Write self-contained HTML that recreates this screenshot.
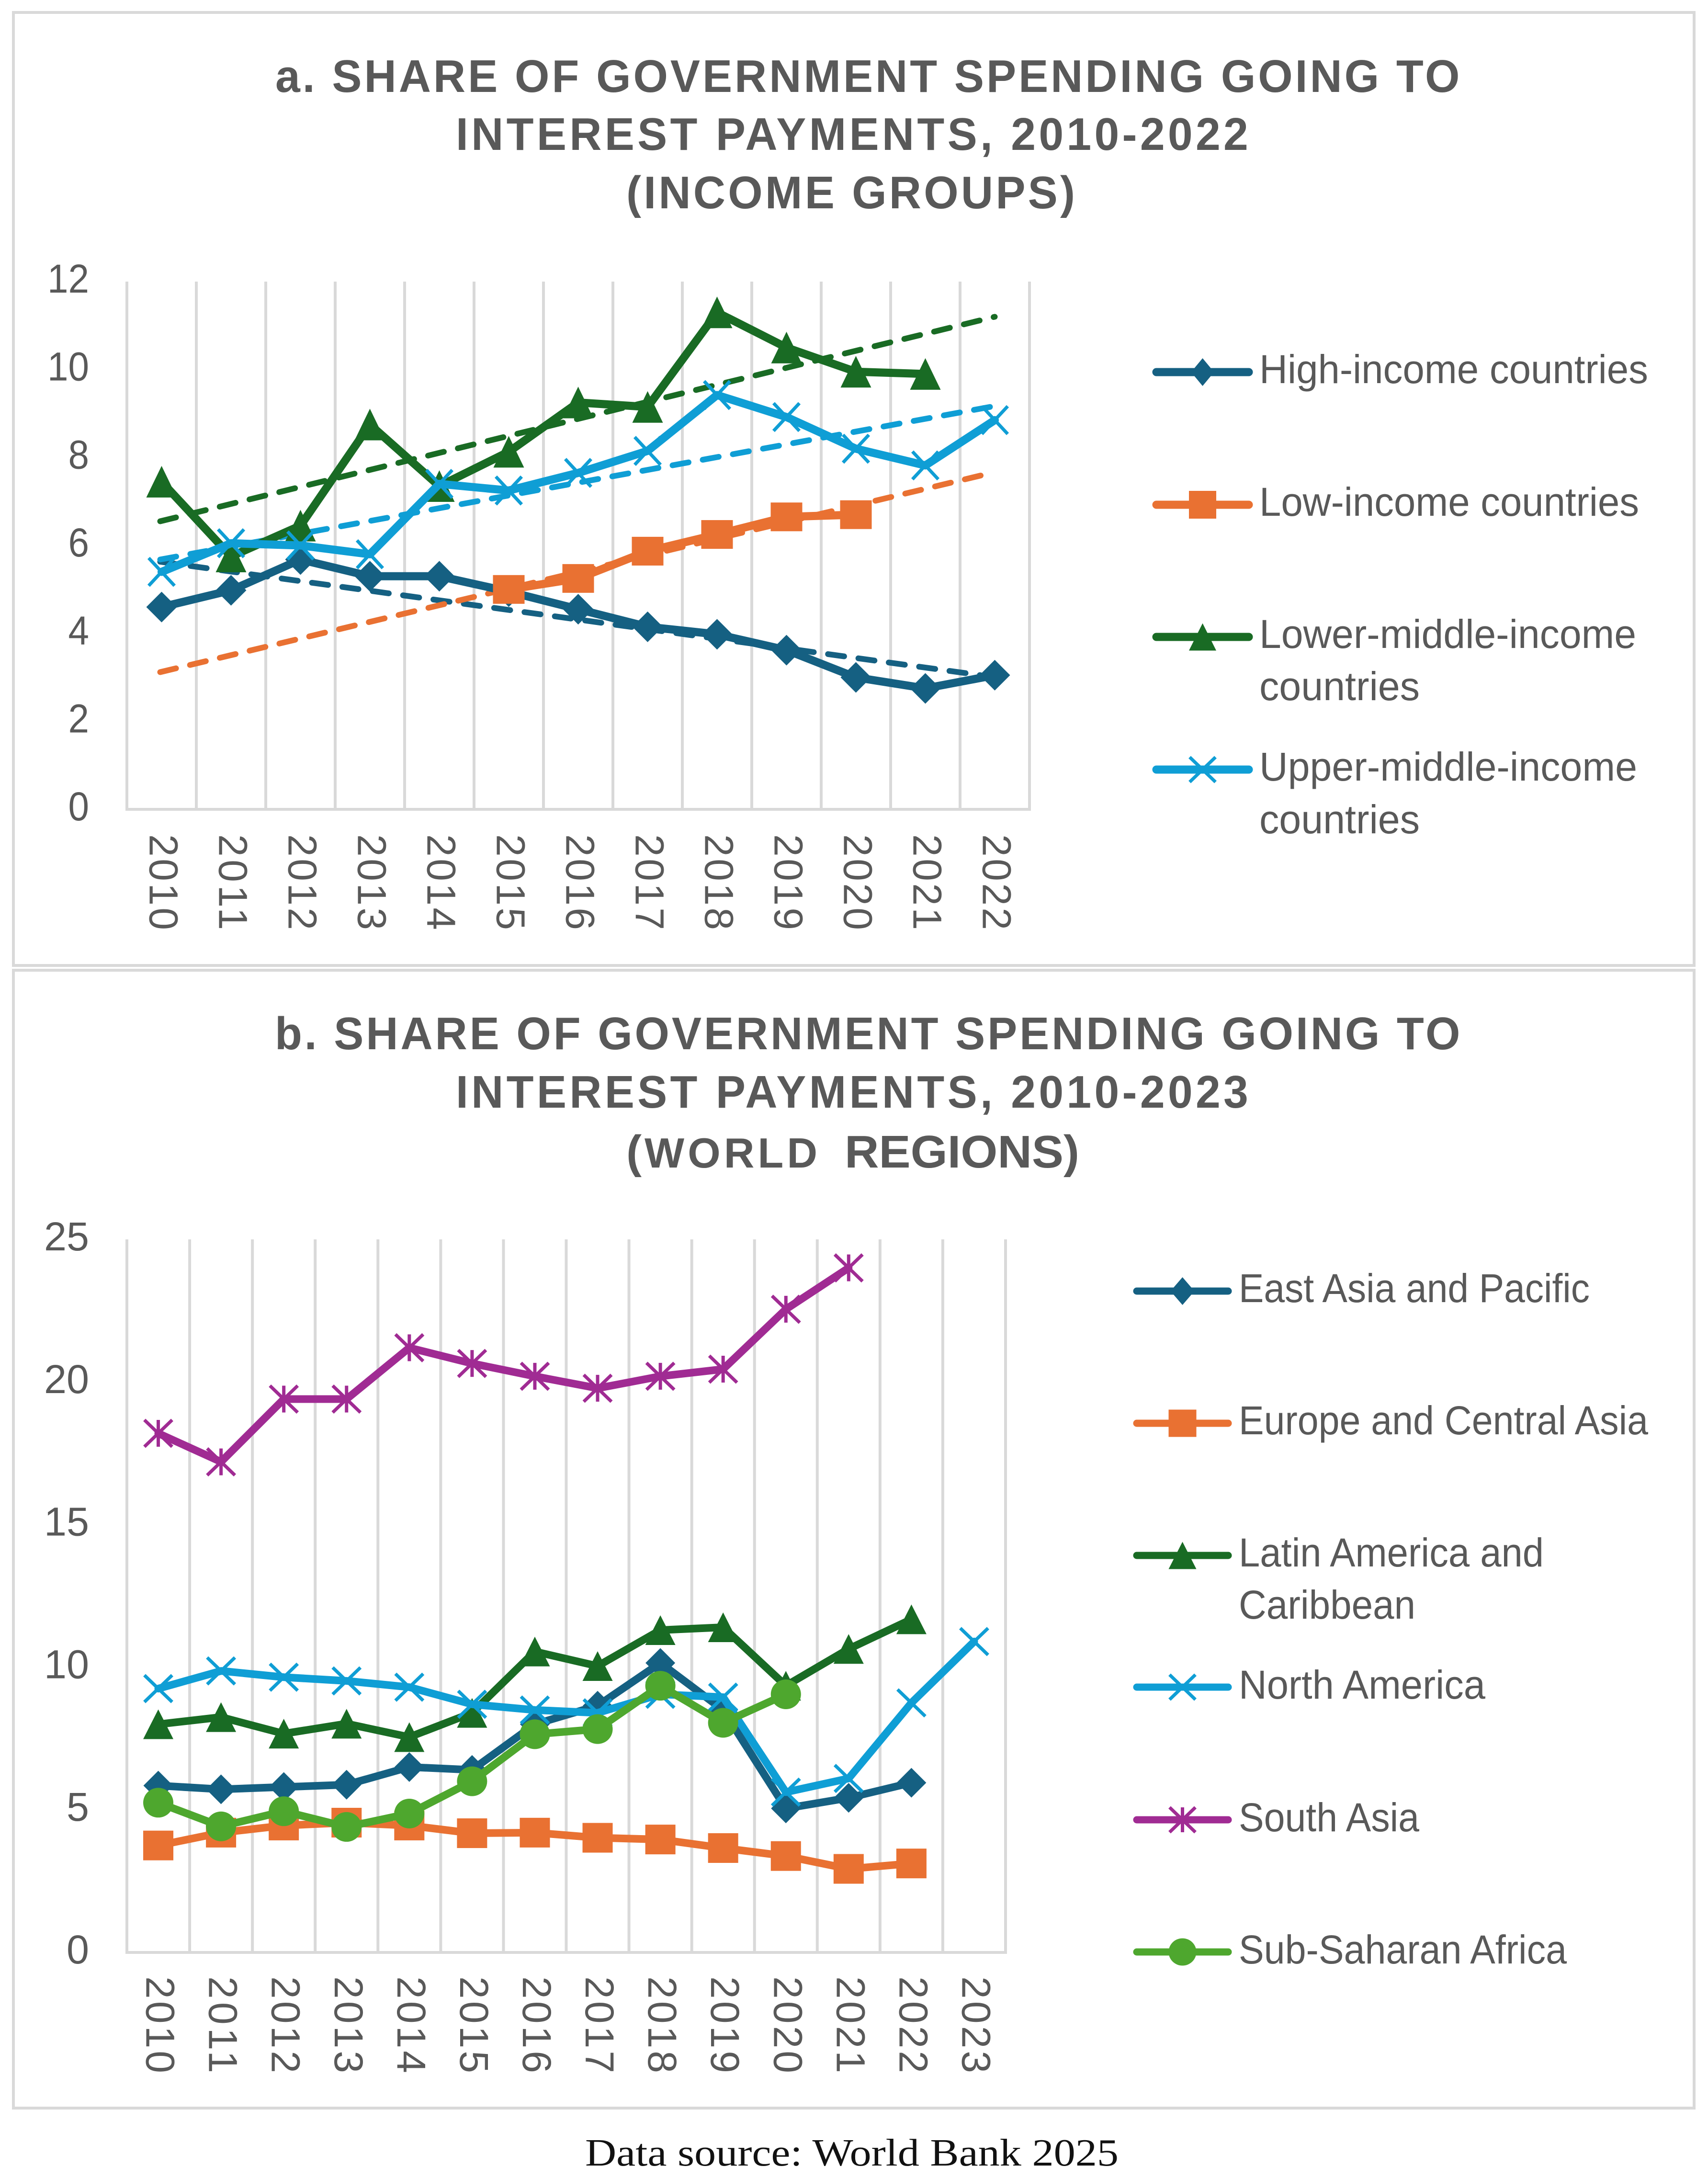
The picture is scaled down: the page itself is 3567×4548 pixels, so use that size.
<!DOCTYPE html>
<html lang="en">
<head>
<meta charset="utf-8">
<title>Share of government spending going to interest payments</title>
<style>
html,body{margin:0;padding:0;background:#fff;}
svg{display:block;}
text{font-family:"Liberation Sans",Arial,sans-serif;fill:#595959;}
.title{font-weight:700;font-size:96px;}
.foot{font-family:"Liberation Serif",serif;font-size:80px;fill:#111;}
</style>
</head>
<body>
<svg id="root" xmlns="http://www.w3.org/2000/svg" width="3567" height="4548" viewBox="0 0 3567 4548">
  <rect x="0" y="0" width="3567" height="4548" fill="#ffffff"/>
  <rect x="28" y="26" width="3510" height="1990" fill="none" stroke="#d9d9d9" stroke-width="6"/>
  <rect x="28" y="2026" width="3510" height="2376" fill="none" stroke="#d9d9d9" stroke-width="6"/>

  <text class="title" transform="translate(575,192) scale(0.97,1)" textLength="2550" lengthAdjust="spacing">a. SHARE OF GOVERNMENT SPENDING GOING TO</text>
  <text class="title" transform="translate(952,313) scale(0.97,1)" textLength="1706" lengthAdjust="spacing">INTEREST PAYMENTS, 2010-2022</text>
  <text class="title" transform="translate(1308,435) scale(0.97,1)" textLength="966" lengthAdjust="spacing">(INCOME GROUPS)</text>

  <text class="title" transform="translate(574,2191) scale(0.97,1)" textLength="2552" lengthAdjust="spacing">b. SHARE OF GOVERNMENT SPENDING GOING TO</text>
  <text class="title" transform="translate(952,2313) scale(0.97,1)" textLength="1706" lengthAdjust="spacing">INTEREST PAYMENTS, 2010-2023</text>
  <text class="title" x="1308" y="2438">(</text>
  <text class="title" x="1346" y="2438" style="font-size:88px" textLength="361" lengthAdjust="spacing">WORLD</text>
  <text class="title" x="1764" y="2438" textLength="490" lengthAdjust="spacingAndGlyphs">REGIONS)</text>

  <text class="foot" x="1222" y="4522" textLength="1114" lengthAdjust="spacingAndGlyphs">Data source: World Bank 2025</text>

  <g id="chart-a"></g>
  <g id="chart-b"></g>
</svg>
<script>
// ---- Panel a data ----
const yearsA = ["2010","2011","2012","2013","2014","2015","2016","2017","2018","2019","2020","2021","2022"];
const ticksA = [0,2,4,6,8,10,12];
const highIncome = [4.6,4.98,5.68,5.3,5.3,4.95,4.55,4.15,3.98,3.62,3.0,2.75,3.05];
const lowIncome = [null,null,null,null,null,5.0,5.25,5.87,6.25,6.65,6.7,null,null];
const lowerMiddleIncome = [7.45,5.75,6.45,8.75,7.35,8.13,9.25,9.15,11.3,10.5,9.95,9.9,null];
const upperMiddleIncome = [5.4,6.05,6.0,5.8,7.4,7.25,7.65,8.15,9.42,8.92,8.2,7.82,8.85];
const trendHigh = [5.63,3.05];
const trendLow = [3.12,7.62];
const trendLowerMiddle = [6.55,11.2];
const trendUpperMiddle = [5.68,9.17];

// ---- Panel b data ----
const yearsB = ["2010","2011","2012","2013","2014","2015","2016","2017","2018","2019","2020","2021","2022","2023"];
const ticksB = [0,5,10,15,20,25];
const eastAsia = [5.85,5.72,5.8,5.88,6.5,6.4,8.0,8.65,10.15,8.5,5.05,5.42,5.95,null];
const europe = [3.75,4.2,4.45,4.55,4.45,4.18,4.2,4.02,3.96,3.66,3.38,2.93,3.12,null];
const latinAmerica = [8.0,8.25,7.67,8.02,7.55,8.4,10.55,10.04,11.3,11.4,9.35,10.64,11.68,null];
const northAmerica = [9.25,9.87,9.65,9.52,9.3,8.7,8.5,8.4,9.05,8.95,5.62,6.1,8.75,10.9];
const southAsia = [18.2,17.2,19.4,19.4,21.2,20.65,20.2,19.78,20.2,20.45,22.55,24.0,null,null];
const subSaharan = [5.25,4.42,4.95,4.4,4.87,6.0,7.65,7.83,9.35,8.05,9.05,null,null,null];

const NS = "http://www.w3.org/2000/svg";
const GRID = "#d9d9d9";

function mk(parent, tag, attrs, txt){
  const e = document.createElementNS(NS, tag);
  for (const k in attrs) e.setAttribute(k, attrs[k]);
  if (txt !== undefined) e.textContent = txt;
  parent.appendChild(e);
  return e;
}

function drawMarker(parent, kind, cx, cy, w, h, color, name){
  const hw = w/2, hh = h/2;
  const g = mk(parent, "g", {});
  
  
  if (kind === "diamond") {
    mk(g, "polygon", {points:`${cx-hw},${cy} ${cx},${cy-hh} ${cx+hw},${cy} ${cx},${cy+hh}`, fill:color});
  } else if (kind === "square") {
    mk(g, "rect", {x:cx-hw, y:cy-hh, width:w, height:h, fill:color});
  } else if (kind === "triangle") {
    mk(g, "polygon", {points:`${cx-hw},${cy+hh} ${cx},${cy-hh} ${cx+hw},${cy+hh}`, fill:color});
  } else if (kind === "circle") {
    mk(g, "ellipse", {cx:cx, cy:cy, rx:hw, ry:hh, fill:color});
  } else {
    mk(g, "line", {x1:cx-hw, y1:cy-hh, x2:cx+hw, y2:cy+hh, stroke:color, "stroke-width":7});
    mk(g, "line", {x1:cx-hw, y1:cy+hh, x2:cx+hw, y2:cy-hh, stroke:color, "stroke-width":7});
    if (kind === "star") mk(g, "line", {x1:cx, y1:cy-hh, x2:cx, y2:cy+hh, stroke:color, "stroke-width":7});
  }
}

function drawChart(cfg){
  const root = document.getElementById(cfg.id);
  const n = cfg.categories.length;
  const step = (cfg.right - cfg.left) / n;
  const xScale = i => cfg.left + step * (i + 0.5);
  const yScale = v => cfg.bottom - (v / cfg.yMax) * (cfg.bottom - cfg.top);

  for (let i = 0; i <= n; i++) {
    const x = cfg.left + step * i;
    const gl = mk(root, "line", {x1:x, y1:cfg.top, x2:x, y2:cfg.bottom, stroke:GRID, "stroke-width":6});
    
    
  }
  const axis = mk(root, "line", {x1:cfg.left-3, y1:cfg.bottom, x2:cfg.right+3, y2:cfg.bottom, stroke:GRID, "stroke-width":6});
  
  

  cfg.ticks.forEach(t => {
    const s = String(t);
    const lab = mk(root, "text", {x:186, y:yScale(t)+cfg.tickDy, "text-anchor":"end", "font-size":84,
      textLength:s.length*cfg.tickDigitW, lengthAdjust:"spacingAndGlyphs"}, s);
    
    
  });

  cfg.categories.forEach((c, i) => {
    const x = xScale(i) - 25;
    const y = cfg.catTop;
    const lab = mk(root, "text", {transform:`translate(${x},${y}) rotate(90)`, x:0, y:0, "font-size":84,
      textLength:cfg.catLen, lengthAdjust:"spacing"}, c);
    
    
  });

  (cfg.trends || []).forEach(t => {
    const tr = mk(root, "line", {x1:xScale(0)-3, y1:yScale(t.values[0]), x2:xScale(n-1)+t.endDx, y2:yScale(t.values[1]),
      stroke:t.color, "stroke-width":12, "stroke-dasharray":"34,30", "stroke-linecap":"round"});
    
    
  });

  cfg.series.forEach(s => {
    let d = "", pen = false;
    s.values.forEach((v, i) => {
      if (v === null) { pen = false; return; }
      d += (pen ? "L" : "M") + xScale(i) + " " + yScale(v) + " ";
      pen = true;
    });
    const p = mk(root, "path", {d:d, fill:"none", stroke:s.color, "stroke-width":cfg.lineW, "stroke-linejoin":"round", "stroke-linecap":"round"});
    
    
    s.values.forEach((v, i) => {
      if (v === null) return;
      drawMarker(root, s.marker, xScale(i), yScale(v), s.mw, s.mh, s.color, 'series-point');
    });
  });

  cfg.legend.forEach(l => {
    const s = cfg.series[l.index];
    const lg = mk(root, "line", {x1:cfg.legX1, y1:l.y, x2:cfg.legX2, y2:l.y, stroke:s.color, "stroke-width":cfg.legW, "stroke-linecap":"round"});
    
    
    drawMarker(root, s.marker, (cfg.legX1+cfg.legX2)/2, l.y, s.lw, s.lh, s.color, 'legend-marker');
    l.lines.forEach(tl => {
      const t = mk(root, "text", {x:cfg.legTextX, y:tl.base, "font-size":84, textLength:tl.len, lengthAdjust:"spacingAndGlyphs"}, tl.text);
      
      
    });
  });
}

const COL = {blue:"#156082", orange:"#E97132", green:"#196B24", cyan:"#0F9ED5", purple:"#A02B93", lime:"#4EA72E"};

drawChart({
  id:"chart-a", categories:yearsA, ticks:ticksA, yMax:12,
  left:265, right:2150, top:588, bottom:1690, lineW:17, tickDy:23, tickDigitW:43.5, catTop:1742, catLen:200,
  trends:[
    {values:trendHigh, color:COL.blue, endDx:-30},
    {values:trendLow, color:COL.orange, endDx:-18},
    {values:trendLowerMiddle, color:COL.green, endDx:0},
    {values:trendUpperMiddle, color:COL.cyan, endDx:0}
  ],
  series:[
    {values:highIncome, color:COL.blue, marker:"diamond", mw:64, mh:64, lw:48, lh:58},
    {values:lowIncome, color:COL.orange, marker:"square", mw:66, mh:60, lw:57, lh:58},
    {values:lowerMiddleIncome, color:COL.green, marker:"triangle", mw:64, mh:66, lw:57, lh:57},
    {values:upperMiddleIncome, color:COL.cyan, marker:"x", mw:54, mh:58, lw:54, lh:52}
  ],
  legX1:2415, legX2:2608, legW:17, legTextX:2630,
  legend:[
    {index:0, y:777, lines:[{text:"High-income countries", base:800, len:812}]},
    {index:1, y:1054, lines:[{text:"Low-income countries", base:1077, len:793}]},
    {index:2, y:1330, lines:[{text:"Lower-middle-income", base:1353, len:787},{text:"countries", base:1462, len:335}]},
    {index:3, y:1607, lines:[{text:"Upper-middle-income", base:1630, len:789},{text:"countries", base:1740, len:335}]}
  ]
});

drawChart({
  id:"chart-b", categories:yearsB, ticks:ticksB, yMax:25,
  left:265, right:2100, top:2588, bottom:4077, lineW:16, tickDy:23, tickDigitW:47, catTop:4127, catLen:202,
  series:[
    {values:eastAsia, color:COL.blue, marker:"diamond", mw:62, mh:62, lw:50, lh:58},
    {values:europe, color:COL.orange, marker:"square", mw:63, mh:62, lw:58, lh:57},
    {values:latinAmerica, color:COL.green, marker:"triangle", mw:63, mh:62, lw:58, lh:57},
    {values:northAmerica, color:COL.cyan, marker:"x", mw:58, mh:56, lw:54, lh:52},
    {values:southAsia, color:COL.purple, marker:"star", mw:58, mh:56, lw:54, lh:52},
    {values:subSaharan, color:COL.lime, marker:"circle", mw:63, mh:62, lw:58, lh:57}
  ],
  legX1:2374, legX2:2565, legW:15, legTextX:2587,
  legend:[
    {index:0, y:2696, lines:[{text:"East Asia and Pacific", base:2719, len:733}]},
    {index:1, y:2972, lines:[{text:"Europe and Central Asia", base:2995, len:855}]},
    {index:2, y:3248, lines:[{text:"Latin America and", base:3271, len:637},{text:"Caribbean", base:3380, len:369}]},
    {index:3, y:3523, lines:[{text:"North America", base:3547, len:515}]},
    {index:4, y:3800, lines:[{text:"South Asia", base:3824, len:377}]},
    {index:5, y:4076, lines:[{text:"Sub-Saharan Africa", base:4100, len:685}]}
  ]
});
</script>
</body>
</html>
